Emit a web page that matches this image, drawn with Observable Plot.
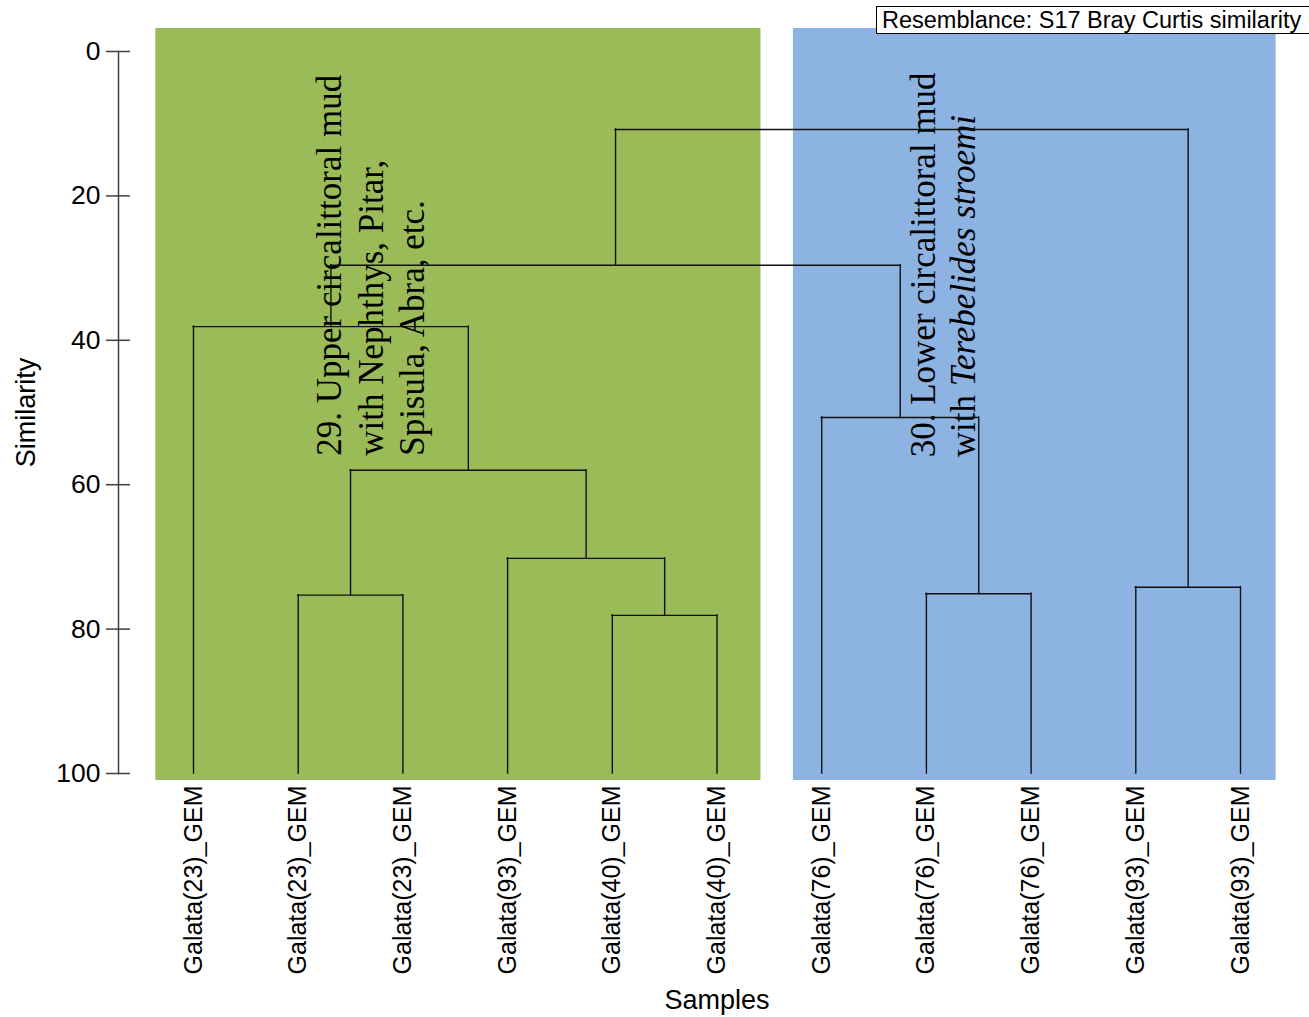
<!DOCTYPE html>
<html>
<head>
<meta charset="utf-8">
<script src="https://cdn.jsdelivr.net/npm/d3@7"></script>
<script src="https://cdn.jsdelivr.net/npm/@observablehq/plot@0.6"></script>
<style>
  html, body { margin: 0; padding: 0; background: #fff; overflow: hidden; }
  #wrap { position: relative; width: 1309px; height: 1017px; }
  #resemblance {
    position: absolute; left: 876px; top: 6px; height: 28px; width: 440px;
    box-sizing: border-box; border: 1px solid #000; background: #fff;
    font: 23.5px "Liberation Sans", Arial, sans-serif; line-height: 26px;
    padding-left: 5px; white-space: nowrap;
  }
</style>
</head>
<body>
<div id="wrap">
  <div id="resemblance">Resemblance: S17 Bray Curtis similarity</div>
</div>
<script>
// Samples in dendrogram leaf order
const samples = [
  "Galata(23)_GEM", "Galata(23)_GEM", "Galata(23)_GEM", "Galata(93)_GEM",
  "Galata(40)_GEM", "Galata(40)_GEM", "Galata(76)_GEM", "Galata(76)_GEM",
  "Galata(76)_GEM", "Galata(93)_GEM", "Galata(93)_GEM"
];

// Agglomeration steps: [left node, right node, similarity %].
// Leaves are nodes 0..10; step k creates node 11 + k.
const merges = [
  [4, 5, 78.1],
  [1, 2, 75.3],
  [3, 11, 70.2],
  [12, 13, 58.0],
  [0, 14, 38.1],
  [7, 8, 75.1],
  [6, 16, 50.7],
  [9, 10, 74.2],
  [15, 17, 29.6],
  [19, 18, 10.8]
];

// Habitat groups shaded behind the tree (extent in leaf units)
const groupLabels = [
  "29. Upper circalittoral mud\nwith Nephthys, Pitar,\nSpisula, Abra, etc.",
  "30. Lower circalittoral mud\nwith Terebelides stroemi"
];
const groupFrom = [-0.36, 5.73];
const groupTo = [5.42, 10.34];
const groupColors = ["#9BBB59", "#8DB3E2"];

const yTicks = [0, 20, 40, 60, 80, 100];

// Node positions: leaves sit at similarity 100, merges at their level
const nodeX = samples.map((_, i) => i);
const nodeH = samples.map(() => 100);
merges.forEach(([a, b, h]) => {
  nodeX.push((nodeX[a] + nodeX[b]) / 2);
  nodeH.push(h);
});

const verticals = merges.flatMap(([a, b, h]) => [
  {x: nodeX[a], y1: nodeH[a], y2: h},
  {x: nodeX[b], y1: nodeH[b], y2: h}
]);
const horizontals = merges.map(([a, b, h]) => ({y: h, x1: nodeX[a], x2: nodeX[b]}));

const groups = groupLabels.map((label, i) => ({
  label, from: groupFrom[i], to: groupTo[i], color: groupColors[i]
}));

const serif = "Liberation Serif, 'Times New Roman', serif";

const chart = Plot.plot({
  width: 1309,
  height: 1017,
  marginTop: 51,
  marginBottom: 244,
  marginLeft: 193,
  marginRight: 69,
  x: {domain: [0, samples.length - 1], axis: null},
  y: {domain: [0, 100], reverse: true, axis: null},
  style: {fontFamily: "'Liberation Sans', Arial, sans-serif", background: "white", overflow: "visible"},
  marks: [
    Plot.rect(groups, {
      x1: "from", x2: "to", y1: 0, y2: 100,
      insetTop: -23, insetBottom: -7, fill: "color"
    }),
    // vertical axis line and ticks crossing it
    Plot.frame({anchor: "left", dx: -75, stroke: "#404040", strokeWidth: 1.5}),
    Plot.axisY({
      ticks: yTicks, tickSize: 24, tickPadding: 6, dx: -63,
      fontSize: 26.5, stroke: "#404040", strokeWidth: 1.5, label: null
    }),
    Plot.axisX({
      ticks: nodeX.slice(0, samples.length),
      tickFormat: i => samples[i],
      tickRotate: -90, tickSize: 0, tickPadding: 12,
      fontSize: 25, label: null
    }),
    Plot.text(["Similarity"], {
      text: d => d, frameAnchor: "left", dx: -167, rotate: -90,
      textAnchor: "middle", lineAnchor: "middle", fontSize: 27
    }),
    Plot.text(["Samples"], {
      text: d => d, frameAnchor: "bottom", dy: 227,
      textAnchor: "middle", lineAnchor: "middle", fontSize: 27
    }),
    // group captions
    Plot.text([groups[0]], {
      x: 1.127, y: 56.0, text: "label", rotate: -90,
      textAnchor: "start", lineAnchor: "top", lineHeight: 1.19,
      fontFamily: serif, fontSize: 35, fill: "#000"
    }),
    Plot.text([groups[1]], {
      x: 6.82, y: 56.2, text: "label", rotate: -90,
      textAnchor: "start", lineAnchor: "top", lineHeight: 1.12,
      fontFamily: serif, fontSize: 35, fill: "#000"
    }),
    // dendrogram
    Plot.ruleX(verticals, {x: "x", y1: "y1", y2: "y2", stroke: "#111", strokeWidth: 1.4, strokeLinecap: "square"}),
    Plot.ruleY(horizontals, {y: "y", x1: "x1", x2: "x2", stroke: "#111", strokeWidth: 1.4, strokeLinecap: "square"})
  ]
});

// species name in italics
d3.select(chart).selectAll("tspan").each(function () {
  const t = this.textContent;
  const name = "Terebelides stroemi";
  if (t.endsWith(name)) {
    this.textContent = t.slice(0, t.length - name.length);
    d3.select(this).append("tspan").attr("font-style", "italic").text(name);
  }
});

document.getElementById("wrap").insertBefore(chart, document.getElementById("resemblance"));
</script>
</body>
</html>
